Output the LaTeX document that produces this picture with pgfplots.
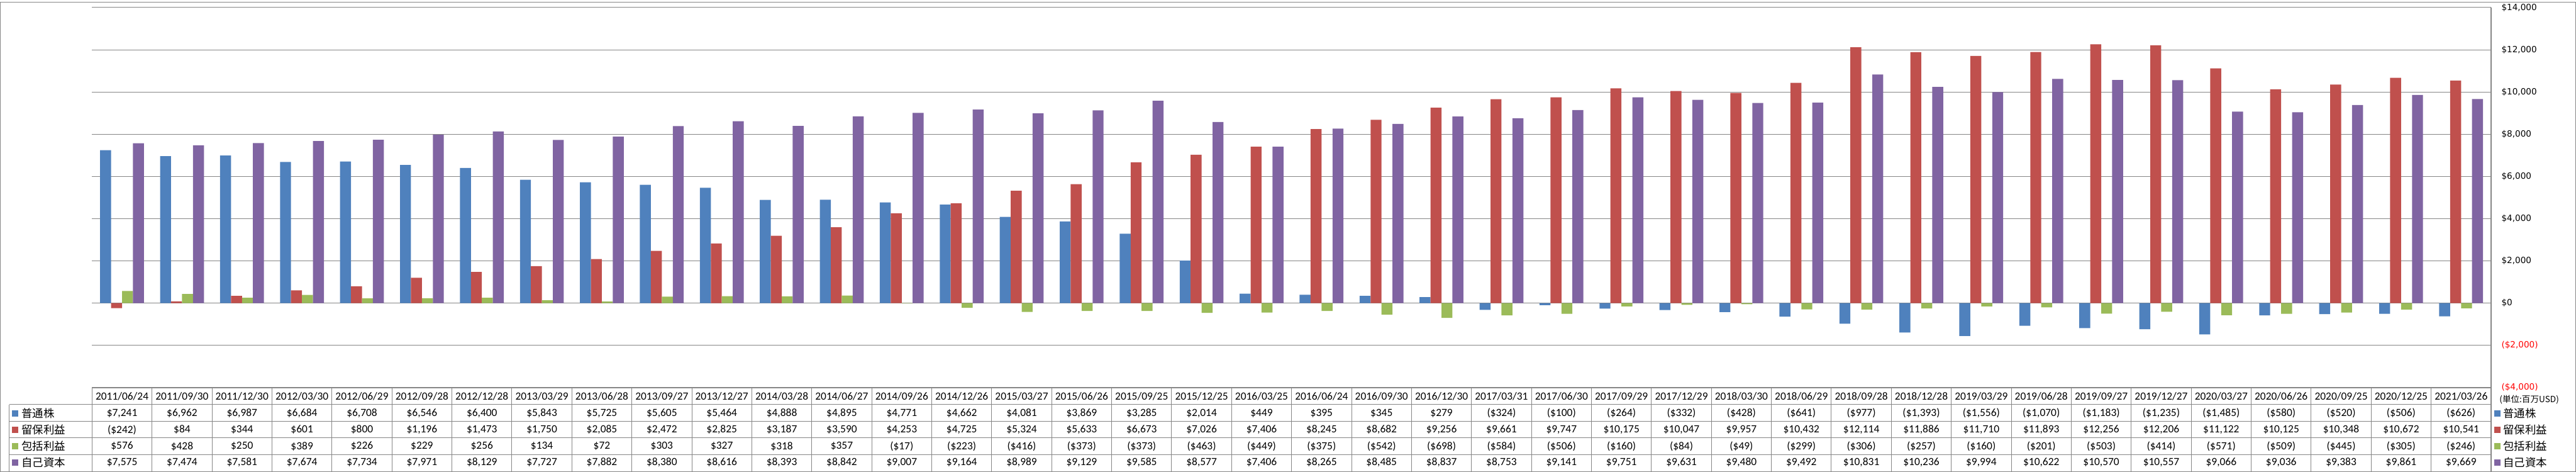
\documentclass[border=0pt]{standalone}
\usepackage{pgfplots}
\pgfplotsset{compat=1.18}
\usepackage{pgfplotstable}
\usepackage{fontspec}
\setmainfont{Carlito}
\newfontfamily\cjk{Noto Sans CJK JP}
\newfontfamily\axisfont{DejaVu Sans}

\definecolor{cCS}{HTML}{4F81BD}
\definecolor{cRE}{HTML}{C0504D}
\definecolor{cCI}{HTML}{9BBB59}
\definecolor{cEQ}{HTML}{8064A2}
\definecolor{gridc}{HTML}{868686}

\pgfkeys{/pgf/number format/.cd, assume math mode=true, fixed, precision=0, 1000 sep={,}}

% idx, date, common stock, retained earnings, comprehensive income, equity (million USD)
\pgfplotstableread{
idx date cs re ci eq
0 2011/06/24 7241 -242 576 7575
1 2011/09/30 6962 84 428 7474
2 2011/12/30 6987 344 250 7581
3 2012/03/30 6684 601 389 7674
4 2012/06/29 6708 800 226 7734
5 2012/09/28 6546 1196 229 7971
6 2012/12/28 6400 1473 256 8129
7 2013/03/29 5843 1750 134 7727
8 2013/06/28 5725 2085 72 7882
9 2013/09/27 5605 2472 303 8380
10 2013/12/27 5464 2825 327 8616
11 2014/03/28 4888 3187 318 8393
12 2014/06/27 4895 3590 357 8842
13 2014/09/26 4771 4253 -17 9007
14 2014/12/26 4662 4725 -223 9164
15 2015/03/27 4081 5324 -416 8989
16 2015/06/26 3869 5633 -373 9129
17 2015/09/25 3285 6673 -373 9585
18 2015/12/25 2014 7026 -463 8577
19 2016/03/25 449 7406 -449 7406
20 2016/06/24 395 8245 -375 8265
21 2016/09/30 345 8682 -542 8485
22 2016/12/30 279 9256 -698 8837
23 2017/03/31 -324 9661 -584 8753
24 2017/06/30 -100 9747 -506 9141
25 2017/09/29 -264 10175 -160 9751
26 2017/12/29 -332 10047 -84 9631
27 2018/03/30 -428 9957 -49 9480
28 2018/06/29 -641 10432 -299 9492
29 2018/09/28 -977 12114 -306 10831
30 2018/12/28 -1393 11886 -257 10236
31 2019/03/29 -1556 11710 -160 9994
32 2019/06/28 -1070 11893 -201 10622
33 2019/09/27 -1183 12256 -503 10570
34 2019/12/27 -1235 12206 -414 10557
35 2020/03/27 -1485 11122 -571 9066
36 2020/06/26 -580 10125 -509 9036
37 2020/09/25 -520 10348 -445 9383
38 2020/12/25 -506 10672 -305 9861
39 2021/03/26 -626 10541 -246 9669
}\datatable

\newcommand\money[1]{\ifnum#1<0 \edef\tmpv{\the\numexpr-#1\relax}(\$\pgfmathprintnumber{\tmpv})\else\$\pgfmathprintnumber{#1}\fi}

\begin{document}
\begin{tikzpicture}
% frame, in pixel units of the reference
\begin{scope}[x=0.5pt,y=-0.5pt]
\useasboundingbox (0,0) rectangle (4701,858);
\end{scope}

\begin{axis}[
  at={(84pt,-352pt)}, anchor=south west,
  scale only axis, width=2189pt, height=346.5pt,
  xmin=-0.5, xmax=39.5, ymin=-4000, ymax=14000,
  ybar=0pt, bar width=10pt,
  xtick=\empty, scaled y ticks=false,
  ytick={-4000,-2000,0,2000,4000,6000,8000,10000,12000,14000},
  yticklabels={{\color{red}(\$4,000)},{\color{red}(\$2,000)},{\$0},{\$2,000},{\$4,000},{\$6,000},{\$8,000},{\$10,000},{\$12,000},{\$14,000}},
  yticklabel pos=right,
  yticklabel style={font=\axisfont\fontsize{7.8}{9}\selectfont, anchor=west, xshift=6pt},
  ymajorgrids, grid style={gridc, line width=0.6pt},
  axis line style={draw=none}, major tick length=0pt,
]
\addplot[fill=cCS, draw=none] table[x=idx, y=cs] \datatable;
\addplot[fill=cRE, draw=none] table[x=idx, y=re] \datatable;
\addplot[fill=cCI, draw=none] table[x=idx, y=ci] \datatable;
\addplot[fill=cEQ, draw=none] table[x=idx, y=eq] \datatable;
\end{axis}

\begin{scope}[x=0.5pt,y=-0.5pt]
\draw[gridc, line width=0.6pt] (1,1) rectangle (4700,857);
% value axis line running down through the table
\draw[gridc, line width=0.6pt] (4546,11) -- (4546,857);
% table lines
\draw[gridc, line width=0.6pt] (168,705) -- (4546,705);
\foreach \yy in {735,766,796,826} \draw[gridc, line width=0.6pt] (17,\yy) -- (4546,\yy);
\draw[gridc, line width=0.6pt] (17,735) -- (17,857);
\foreach \k in {0,...,39} \draw[gridc, line width=0.6pt] ({168+109.45*\k},705) -- ({168+109.45*\k},857);
% table text
\foreach \i in {0,...,39} {
  \pgfmathsetmacro\cx{168+109.45*(\i+0.5)}
  \pgfplotstablegetelem{\i}{date}\of\datatable
  \node[font=\fontsize{10}{12}\selectfont] at (\cx,720) {\pgfplotsretval};
  \pgfplotstablegetelem{\i}{cs}\of\datatable
  \node[font=\fontsize{10}{12}\selectfont] at (\cx,751) {\money{\pgfplotsretval}};
  \pgfplotstablegetelem{\i}{re}\of\datatable
  \node[font=\fontsize{10}{12}\selectfont] at (\cx,781) {\money{\pgfplotsretval}};
  \pgfplotstablegetelem{\i}{ci}\of\datatable
  \node[font=\fontsize{10}{12}\selectfont] at (\cx,811) {\money{\pgfplotsretval}};
  \pgfplotstablegetelem{\i}{eq}\of\datatable
  \node[font=\fontsize{10}{12}\selectfont] at (\cx,841) {\money{\pgfplotsretval}};
}
% legend keys in the table
\foreach \c/\t/\yy in {cCS/普通株/751, cRE/留保利益/781, cCI/包括利益/811, cEQ/自己資本/841} {
  \fill[\c] (22,\yy-5.5) rectangle (33,\yy+5.5);
  \node[anchor=west, inner sep=0pt, font=\cjk\fontsize{10}{12}\selectfont] at (39,\yy) {\t};
  \fill[\c] (4552,\yy-5.5) rectangle (4563,\yy+5.5);
  \node[anchor=west, inner sep=0pt, font=\cjk\fontsize{10}{12}\selectfont] at (4568,\yy) {\t};
}
\node[anchor=west, inner sep=0pt, font=\cjk\fontsize{7.8}{9}\selectfont] at (4561,726) {(単位:百万USD)};
\end{scope}
\end{tikzpicture}
\end{document}
